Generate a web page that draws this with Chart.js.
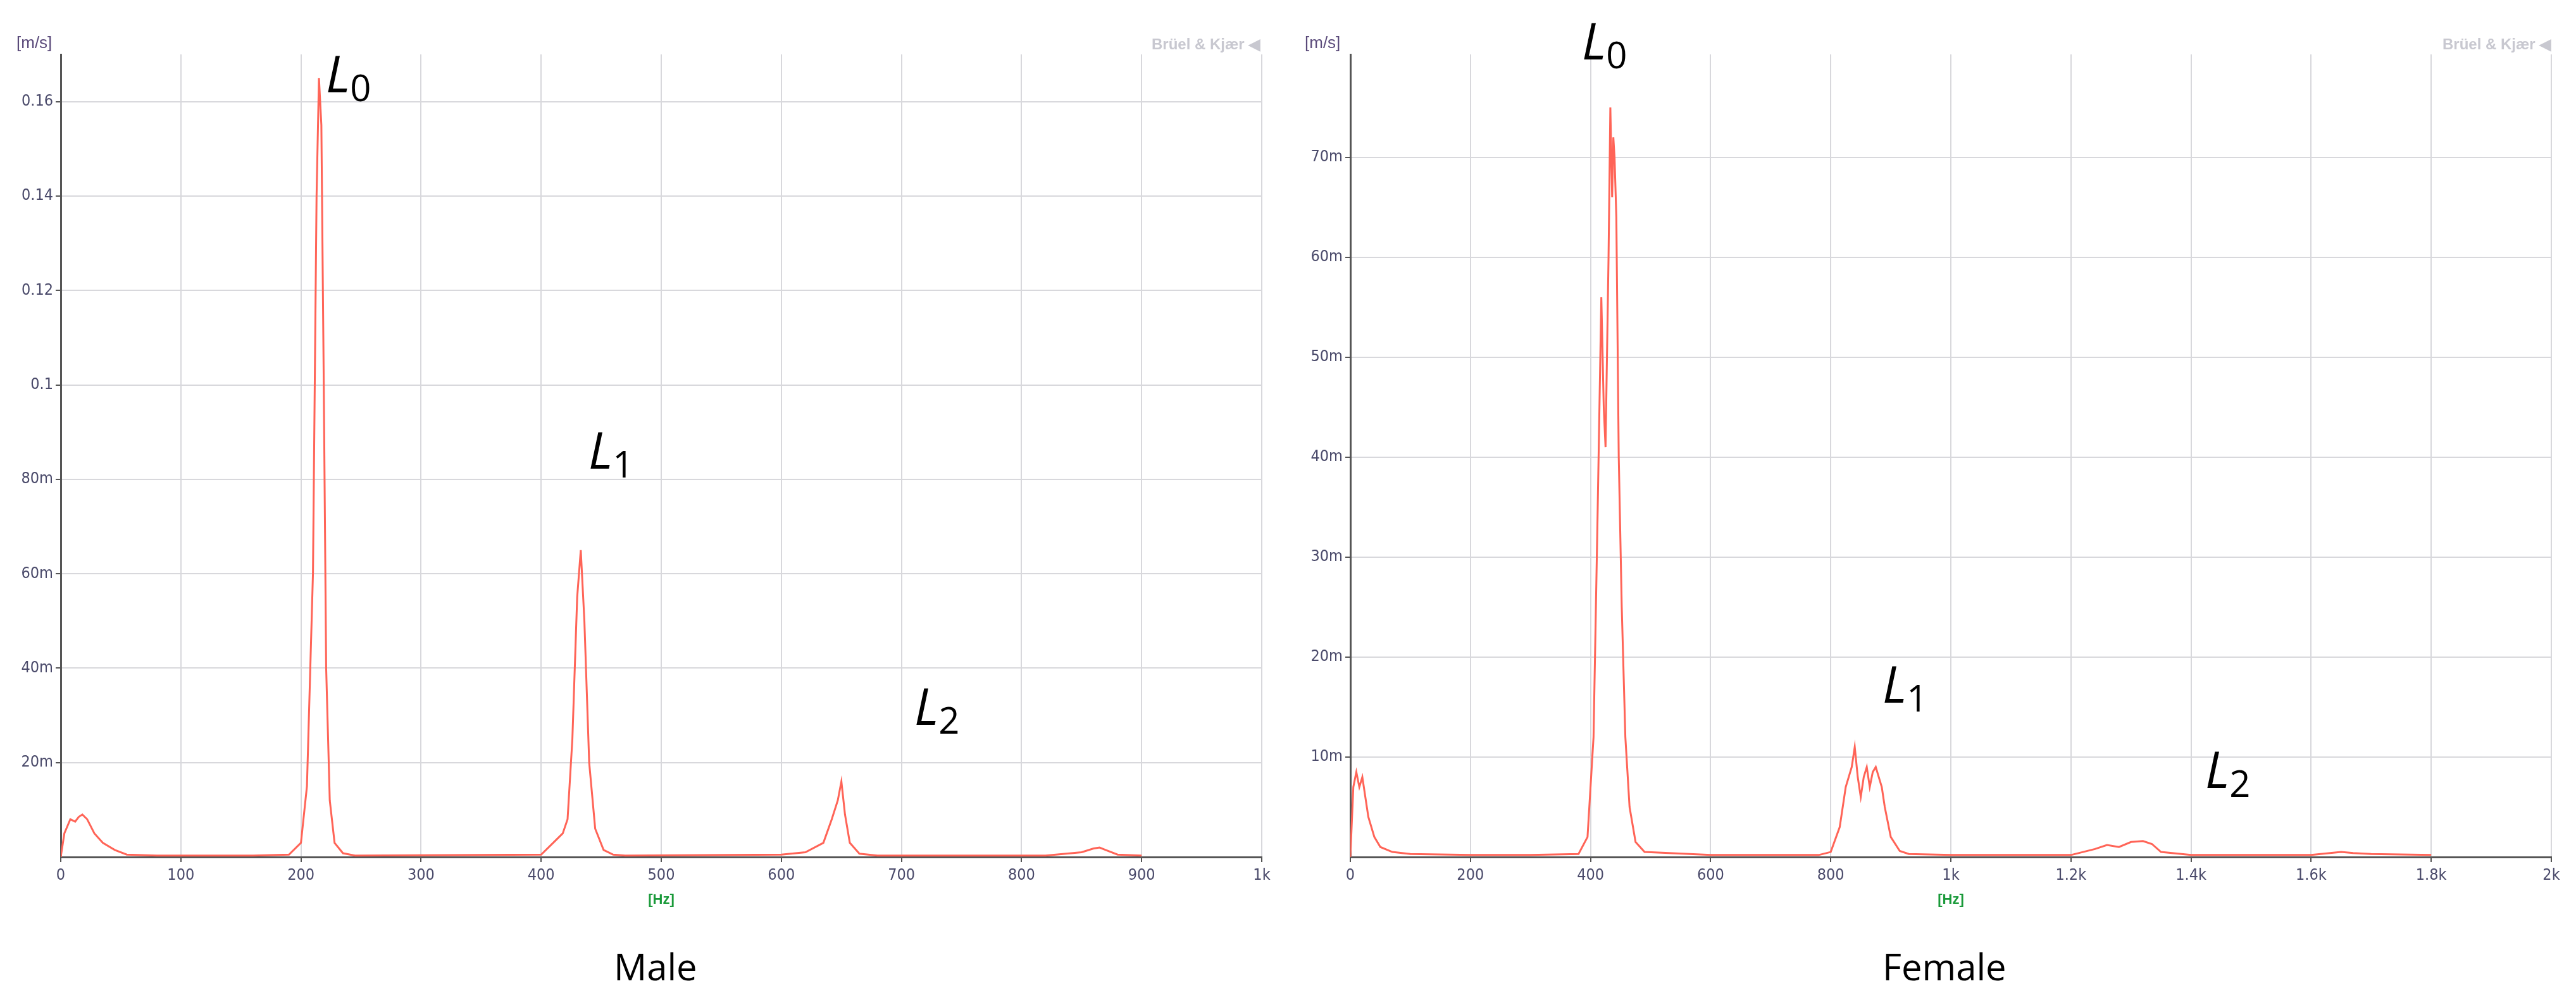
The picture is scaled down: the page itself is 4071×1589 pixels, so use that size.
<!DOCTYPE html>
<html><head><meta charset="utf-8">
<script src="https://cdn.jsdelivr.net/npm/chart.js@4/dist/chart.umd.min.js"></script>
<style>
body{margin:0;width:4071px;height:1589px;background:#fff;position:relative;overflow:hidden;font-family:"Liberation Sans",sans-serif}
.cv{position:absolute;top:0}
.t{position:absolute;white-space:nowrap}
.cap{font-family:"Open Sans",sans-serif;font-size:58px;color:#000}
.L{font-family:"Open Sans",sans-serif;font-size:80px;color:#000}
.L sub{font-size:58px;font-style:normal;vertical-align:-14px}
.unit{font-size:26px;color:#5a4a7a}
.bk{font-size:24px;color:#c8c8d0;font-weight:bold}
</style></head><body>
<div class="cv" style="left:0;width:2040px;height:1440px"><canvas id="c1"></canvas></div>
<div class="cv" style="left:2040px;width:2031px;height:1440px"><canvas id="c2"></canvas></div>
<div class="t unit" style="left:26px;top:52px">[m/s]</div>
<div class="t unit" style="left:2062px;top:52px">[m/s]</div>
<div class="t bk" style="left:1820px;top:56px">Brüel &amp; Kjær ◀</div>
<div class="t bk" style="left:3860px;top:56px">Brüel &amp; Kjær ◀</div>
<div class="t cap" style="left:970px;top:1488px">Male</div>
<div class="t cap" style="left:2975px;top:1488px">Female</div>
<div class="t L" style="left:515px;top:60px"><i>L</i><sub>0</sub></div>
<div class="t L" style="left:930px;top:655px"><i>L</i><sub>1</sub></div>
<div class="t L" style="left:1445px;top:1060px"><i>L</i><sub>2</sub></div>
<div class="t L" style="left:2500px;top:8px"><i>L</i><sub>0</sub></div>
<div class="t L" style="left:2975px;top:1025px"><i>L</i><sub>1</sub></div>
<div class="t L" style="left:3485px;top:1160px"><i>L</i><sub>2</sub></div>
<script>
const maleFreq=[0,3,8,12,15,18,22,28,35,45,55,80,160,190,200,205,210,213,215,217,219,221,224,228,235,245,400,410,418,422,426,430,433,436,440,445,452,460,470,600,620,635,642,647,650,653,657,665,680,820,850,860,865,870,880,900];
const maleAmp=[0,5,8,7.5,8.5,9,8,5,3,1.5,0.5,0.3,0.3,0.5,3,15,60,140,165,155,100,40,12,3,0.8,0.3,0.5,3,5,8,25,55,65,50,20,6,1.5,0.5,0.3,0.5,1,3,8,12,16,9,3,0.7,0.3,0.3,1,1.8,2,1.5,0.5,0.3];
const femaleFreq=[0,5,10,15,20,25,30,40,50,70,100,200,300,380,395,405,412,418,422,425,430,433,436,438,440,443,447,452,458,465,475,490,600,780,800,815,825,835,840,845,850,855,860,865,870,875,880,885,890,900,915,930,1000,1200,1240,1260,1280,1300,1320,1335,1350,1400,1600,1650,1670,1700,1800];
const femaleAmp=[0,7,8.5,7,8,6,4,2,1,0.5,0.3,0.2,0.2,0.3,2,12,35,56,45,41,60,75,66,72,70,64,40,25,12,5,1.5,0.5,0.2,0.2,0.5,3,7,9,11,8,6,8,9,7,8.5,9,8,7,5,2,0.6,0.3,0.2,0.2,0.8,1.2,1,1.5,1.6,1.3,0.5,0.2,0.2,0.5,0.4,0.3,0.2];
const maleXTicks=[0,100,200,300,400,500,600,700,800,900,1000];
const maleYTicks=[0.02,0.04,0.06,0.08,0.1,0.12,0.14,0.16];
const femaleXTicks=[0,200,400,600,800,1000,1200,1400,1600,1800,2000];
const femaleYTicks=[0.01,0.02,0.03,0.04,0.05,0.06,0.07];

function fmtY(v){return v<0.1-1e-9?Math.round(v*1000)+'m':String(+v.toFixed(2));}
function fmtX(v){return v>=1000?(+(v/1000).toFixed(1))+'k':String(v);}
function make(id,fx,amp,xt,yt,xmax,ymax,yw){
  const tickFont={family:'"DejaVu Sans Condensed","Liberation Sans",sans-serif',size:25};
  new Chart(document.getElementById(id),{type:'line',
    data:{datasets:[{data:fx.map((f,i)=>({x:f,y:amp[i]/1000})),borderColor:'#ff6457',borderWidth:3,pointRadius:0,tension:0,fill:false}]},
    options:{responsive:true,maintainAspectRatio:false,animation:false,
      plugins:{legend:{display:false},tooltip:{enabled:false}},
      layout:{padding:{top:86,right:id==='c1'?46:39}},
      scales:{
        x:{type:'linear',min:0,max:xmax,afterBuildTicks:s=>{s.ticks=xt.map(v=>({value:v}));},afterFit:s=>{s.height=85;},
          ticks:{callback:fmtX,color:'#4a4a6a',font:tickFont,maxRotation:0,padding:6},
          grid:{color:'#d8d8dc',lineWidth:2,tickLength:8,tickColor:'#555'},border:{color:'#555',width:3},
          title:{display:true,text:'[Hz]',color:'#1a9a3a',font:{size:22,weight:'bold'},padding:{top:0}}},
        y:{type:'linear',min:0,max:ymax,afterBuildTicks:s=>{s.ticks=yt.map(v=>({value:v}));},afterFit:s=>{s.width=yw;},
          ticks:{callback:fmtY,color:'#4a4a6a',font:tickFont,padding:4},
          grid:{color:'#d8d8dc',lineWidth:2,tickLength:8,tickColor:'#555'},border:{color:'#555',width:3}}
      }}});
}
make('c1',maleFreq,maleAmp,maleXTicks,maleYTicks,1000,0.170,96);
make('c2',femaleFreq,femaleAmp,femaleXTicks,femaleYTicks,2000,0.0803,94);
</script></body></html>
